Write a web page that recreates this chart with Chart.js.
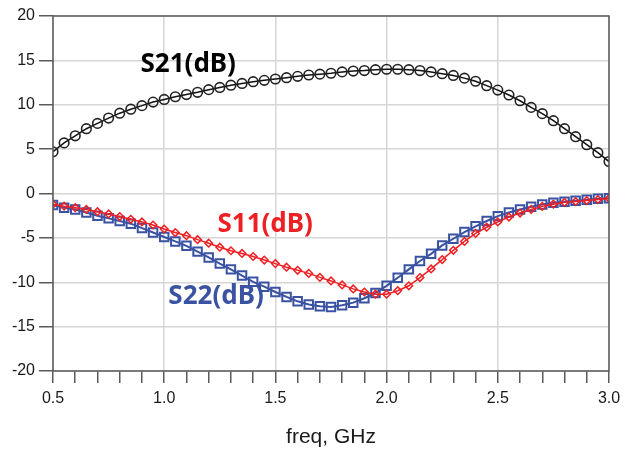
<!DOCTYPE html>
<html>
<head>
<meta charset="utf-8">
<script src="https://cdn.jsdelivr.net/npm/chart.js@4"></script>
<style>
  html, body { margin: 0; padding: 0; background: #fff; }
  #chart { display: block; }
</style>
</head>
<body>
<canvas id="chart" width="635" height="450"></canvas>
<script>
// frequency points, GHz
const freq = [
  0.50, 0.55, 0.60, 0.65, 0.70, 0.75, 0.80, 0.85, 0.90, 0.95,
  1.00, 1.05, 1.10, 1.15, 1.20, 1.25, 1.30, 1.35, 1.40, 1.45,
  1.50, 1.55, 1.60, 1.65, 1.70, 1.75, 1.80, 1.85, 1.90, 1.95,
  2.00, 2.05, 2.10, 2.15, 2.20, 2.25, 2.30, 2.35, 2.40, 2.45,
  2.50, 2.55, 2.60, 2.65, 2.70, 2.75, 2.80, 2.85, 2.90, 2.95, 3.00
];

const s21 = [
  4.7, 5.7, 6.5, 7.3, 7.9, 8.5, 9.05, 9.5, 9.9, 10.3,
  10.6, 10.9, 11.15, 11.4, 11.7, 11.95, 12.2, 12.4, 12.6, 12.75,
  12.9, 13.05, 13.2, 13.35, 13.45, 13.55, 13.7, 13.8, 13.85, 13.95,
  14.0, 14.0, 13.95, 13.85, 13.7, 13.5, 13.3, 13.0, 12.65, 12.15,
  11.65, 11.1, 10.45, 9.7, 9.0, 8.2, 7.3, 6.4, 5.5, 4.6, 3.6
];

const s11 = [
  -1.2, -1.43, -1.6, -1.8, -2.05, -2.3, -2.6, -2.9, -3.2, -3.55,
  -4.0, -4.4, -4.75, -5.2, -5.6, -6.05, -6.45, -6.75, -7.1, -7.5,
  -7.9, -8.3, -8.65, -9.0, -9.45, -9.85, -10.3, -10.75, -11.1, -11.35,
  -11.35, -10.95, -10.4, -9.47, -8.5, -7.45, -6.4, -5.4, -4.5, -3.8,
  -3.2, -2.65, -2.2, -1.8, -1.45, -1.2, -1.0, -0.9, -0.8, -0.68, -0.56
];

const s22 = [
  -1.3, -1.6, -1.8, -2.15, -2.5, -2.8, -3.1, -3.4, -3.9, -4.4,
  -4.9, -5.4, -5.9, -6.55, -7.2, -7.9, -8.55, -9.25, -9.95, -10.5,
  -11.1, -11.65, -12.15, -12.5, -12.7, -12.8, -12.6, -12.3, -11.8, -11.2,
  -10.4, -9.5, -8.55, -7.6, -6.8, -5.85, -5.1, -4.35, -3.7, -3.1,
  -2.55, -2.15, -1.8, -1.5, -1.25, -1.05, -0.93, -0.82, -0.7, -0.6, -0.53
];

// axis ticks
const xMin = 0.5, xMax = 3.0;
const yTicks = [20, 15, 10, 5, 0, -5, -10, -15, -20];

// trace labels placed in data coordinates
const traceLabels = [
  { text: 'S21(dB)', x: 1.108, y: 14.5, color: '#000000' },
  { text: 'S11(dB)', x: 1.454, y: -3.5, color: '#ee2024' },
  { text: 'S22(dB)', x: 1.233, y: -11.6, color: '#3a52a2' }
];

const toPoints = (vals) => vals.map((v, i) => ({ x: freq[i], y: v }));

const isMajor = (v) => Math.round(v * 10) % 5 === 0;

// frame round the plot area and the trace names
const framePlugin = {
  id: 'frame',
  afterDatasetsDraw(chart) {
    const { ctx, chartArea: a, scales } = chart;
    ctx.save();
    traceLabels.forEach((l) => {
      ctx.font = 'bold 26px "Noto Sans", "Open Sans", sans-serif';
      ctx.fillStyle = l.color;
      ctx.textAlign = 'center';
      ctx.textBaseline = 'middle';
      ctx.fillText(l.text, scales.x.getPixelForValue(l.x), scales.y.getPixelForValue(l.y));
    });
    ctx.strokeStyle = '#5a5a5a';
    ctx.lineWidth = 1.5;
    ctx.strokeRect(a.left, a.top, a.right - a.left, a.bottom - a.top);
    ctx.restore();
  }
};

new Chart(document.getElementById('chart').getContext('2d'), {
  type: 'line',
  data: {
    datasets: [
      {
        label: 'S21(dB)',
        data: toPoints(s21),
        borderColor: '#111111',
        borderWidth: 1.5,
        pointStyle: 'circle',
        pointRadius: 4.8,
        pointBorderWidth: 1.6,
        pointBorderColor: '#222222',
        pointBackgroundColor: 'rgba(0,0,0,0)',
        order: 0
      },
      {
        label: 'S11(dB)',
        data: toPoints(s11),
        borderColor: '#ee2024',
        borderWidth: 1.5,
        pointStyle: 'rectRot',
        pointRadius: 3.8,
        pointBorderWidth: 1.5,
        pointBorderColor: '#ee2024',
        pointBackgroundColor: 'rgba(0,0,0,0)',
        order: 1
      },
      {
        label: 'S22(dB)',
        data: toPoints(s22),
        borderColor: '#3a52a2',
        borderWidth: 2,
        pointStyle: 'rect',
        pointRadius: 6,
        pointBorderWidth: 2,
        pointBorderColor: '#3a52a2',
        pointBackgroundColor: 'rgba(0,0,0,0)',
        order: 2
      }
    ]
  },
  options: {
    responsive: false,
    animation: false,
    events: [],
    layout: { padding: { top: 16, right: 26, bottom: 0, left: 0 } },
    plugins: {
      legend: { display: false },
      tooltip: { enabled: false }
    },
    elements: { line: { tension: 0 } },
    scales: {
      x: {
        type: 'linear',
        min: xMin,
        max: xMax,
        afterFit: (scale) => { scale.height = 79; },
        border: { display: false },
        grid: {
          color: (ctx) => (ctx.tick && isMajor(ctx.tick.value) ? '#d6d6d6' : 'rgba(0,0,0,0)'),
          lineWidth: 1.5,
          drawTicks: true,
          tickLength: 12,
          tickColor: '#5a5a5a',
          tickWidth: 1.5
        },
        ticks: {
          stepSize: 0.1,
          autoSkip: false,
          maxRotation: 0,
          padding: 6,
          color: '#1a1a1a',
          font: { family: '"Liberation Sans", Arial, sans-serif', size: 16 },
          callback: (v) => (isMajor(v) ? v.toFixed(1) : '')
        },
        title: {
          display: true,
          text: 'freq, GHz',
          color: '#1a1a1a',
          font: { family: '"Liberation Sans", Arial, sans-serif', size: 21 },
          padding: { top: 0, bottom: 0 }
        }
      },
      y: {
        min: -20,
        max: 20,
        afterFit: (scale) => { scale.width = 53; },
        afterBuildTicks: (scale) => { scale.ticks = yTicks.map((v) => ({ value: v })); },
        border: { display: false },
        grid: {
          color: '#d6d6d6',
          lineWidth: 1.5,
          drawTicks: true,
          tickLength: 14,
          tickColor: '#5a5a5a',
          tickWidth: 1.5
        },
        ticks: {
          padding: 4,
          color: '#1a1a1a',
          font: { family: '"Liberation Sans", Arial, sans-serif', size: 16 }
        }
      }
    }
  },
  plugins: [framePlugin]
});
</script>
</body>
</html>
